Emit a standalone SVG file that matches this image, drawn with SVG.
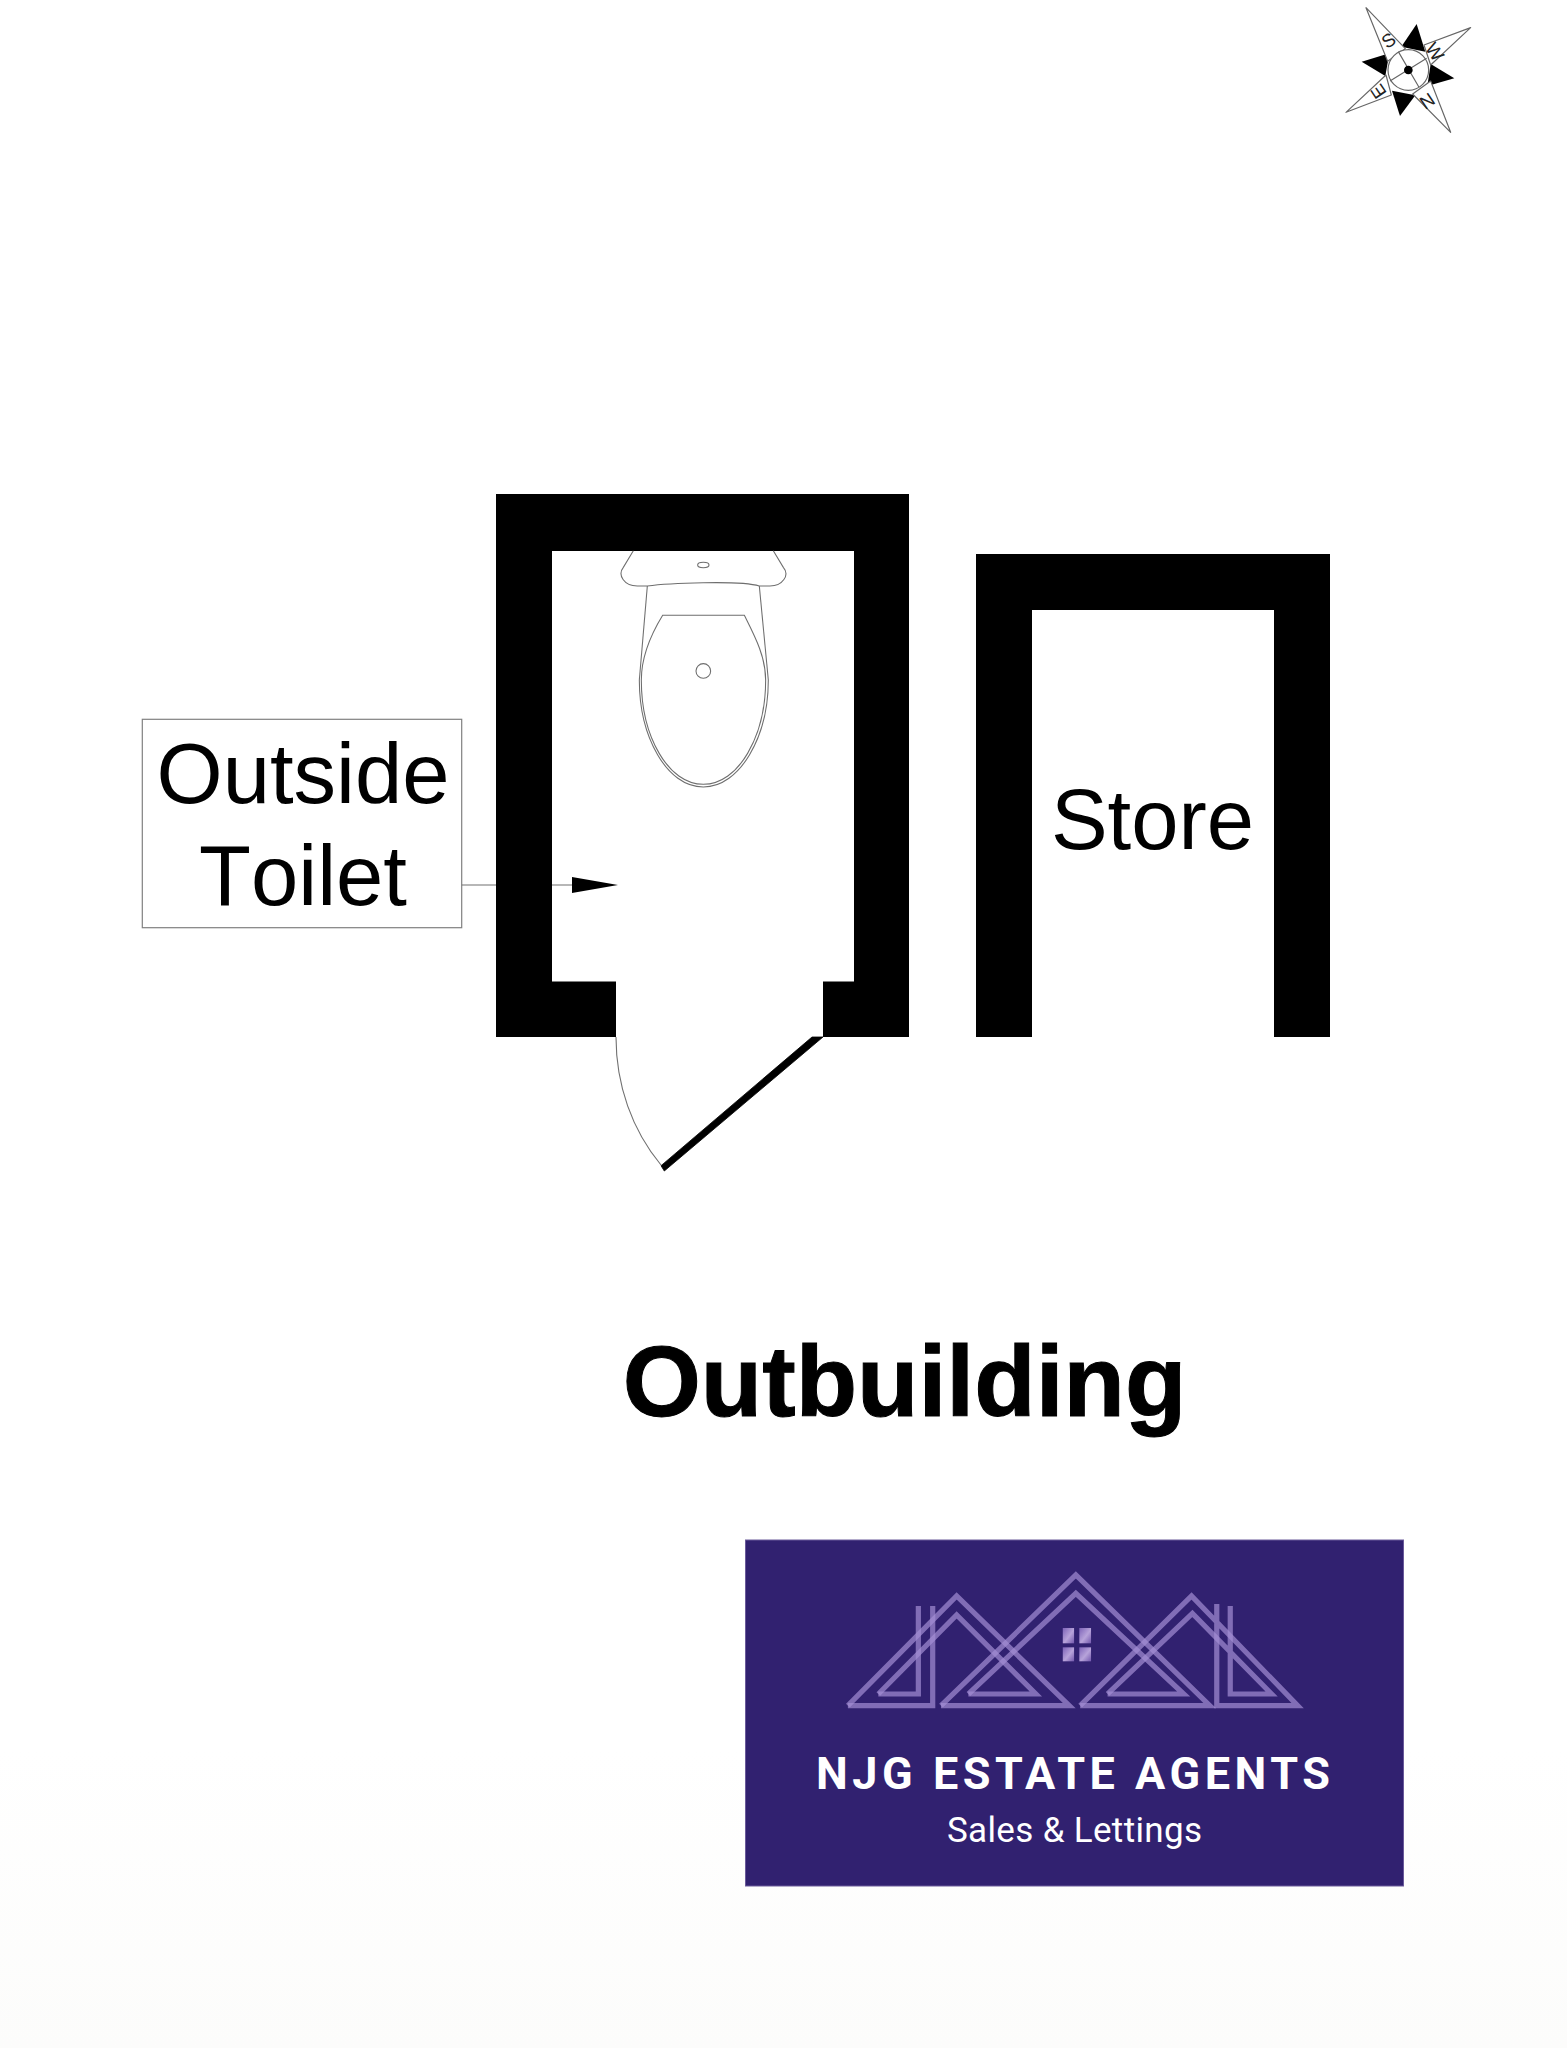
<svg xmlns="http://www.w3.org/2000/svg" width="1567" height="2048" viewBox="0 0 1567 2048">
<defs>
<linearGradient id="fade" x1="0" y1="0" x2="0" y2="1"><stop offset="0" stop-color="#ffffff"/><stop offset="1" stop-color="#fcfcfb"/></linearGradient>
<linearGradient id="pane" x1="0" y1="0" x2="1" y2="1"><stop offset="0" stop-color="#7d63b8"/><stop offset="0.55" stop-color="#b7a3da"/><stop offset="1" stop-color="#7358ad"/></linearGradient>
</defs>
<style>
.wall{fill:#000}
.thin{fill:none;stroke:#707070;stroke-width:1.1}
.fix{fill:none;stroke:#6e6e6e;stroke-width:3.2}
.lbl{font-family:"Liberation Sans",Arial,sans-serif;fill:#000;font-size:85px;text-anchor:middle;font-kerning:none}
.roof{fill:none;stroke:#a48fd4;stroke-opacity:.7;stroke-width:5.2;stroke-linejoin:miter;vector-effect:non-scaling-stroke}
.cmp{fill:#fff;stroke:#666;stroke-width:3.5;stroke-linejoin:round}
.blk{fill:#000}
.cl{font-family:"Liberation Sans",Arial,sans-serif;font-size:56px;fill:#222;text-anchor:middle}
</style>
<rect width="1567" height="2048" fill="#fff"/>
<rect y="1750" width="1567" height="298" fill="url(#fade)"/>

<g id="compass" transform="translate(1320,0) scale(0.3333)">
<polygon class="blk" points="290,72 244,140 316,155"/>
<polygon class="blk" points="403,235 332,192 322,258"/>
<polygon class="blk" points="240,348 216,272 286,286"/>
<polygon class="blk" points="125,185 208,160 196,228"/>
<polygon class="cmp" points="138,23 256,146 203,184"/>
<polygon class="cmp" points="452,83 312,135 332,195"/>
<polygon class="cmp" points="392,397 332,243 278,282"/>
<polygon class="cmp" points="78,337 214,285 198,225"/>
<circle class="cmp" cx="265" cy="210" r="61"/>
<path d="M235,155L297,262M210,243L320,175" fill="none" stroke="#666" stroke-width="3.5"/>
<circle class="blk" cx="265" cy="210" r="13"/>
<text class="cl" transform="translate(205,121) rotate(326)" dy="20">S</text>
<text class="cl" transform="translate(345,155) rotate(56)" dy="20">W</text>
<text class="cl" transform="translate(322,304) rotate(146)" dy="20">N</text>
<text class="cl" transform="translate(175,275) rotate(236)" dy="20">E</text>
</g>

<g id="outside-toilet-walls">
<path class="wall" d="M496,494H909V1037H823V981.5H854V551H552V981.5H616V1037H496Z"/>
</g>

<g id="toilet" transform="translate(600,530) scale(0.3333)">
<path class="fix" d="M100,62L70,112C52,135 72,168 112,168L142,168C200,160 420,150 478,168L510,168C548,168 570,135 550,112L520,62"/>
<ellipse class="fix" cx="310" cy="105" rx="17" ry="8"/>
<path class="fix" d="M142,168L118,450"/>
<path class="fix" d="M478,168L505,450"/>
<path class="fix" d="M118,450C118,620 200,771 310,771C420,771 505,620 505,450"/>
<path class="fix" d="M188,256L433,256C465,320 497,380 497,450C497,620 415,763 310,763C205,763 124,620 124,450C124,380 155,310 188,256Z"/>
<circle class="fix" cx="310" cy="423" r="22"/>
</g>

<g id="door">
<polygon class="wall" stroke="#000" stroke-width="0.8" points="812,1037 823,1037 664.3,1171 661,1165.7"/>
<path class="thin" d="M616,1037C616,1085 632,1130 661,1165"/>
</g>

<g id="store-walls">
<path class="wall" d="M976,1037V554H1330V1037H1274V610H1032V1037Z"/>
</g>
<g id="store-label"><text class="lbl" x="1152.5" y="849">Store</text></g>

<g id="outside-toilet-label">
<rect x="142.3" y="719.3" width="319.4" height="208.4" fill="#fff" stroke="#808080" stroke-width="1.2"/>
<text class="lbl" x="303" y="803">Outside</text>
<text class="lbl" x="303" y="905">Toilet</text>
</g>

<g id="connectors">
<path class="thin" d="M461.7,885H496M552,885H572"/>
<polygon class="wall" points="572,877 618,885 572,893"/>
</g>

<g id="title"><text x="904.5" y="1416" font-family="Liberation Sans, Arial, sans-serif" font-weight="700" font-size="100.5" text-anchor="middle" fill="#000" stroke="#000" stroke-width="1">Outbuilding</text></g>

<g id="logo">
<rect x="745.5" y="1540" width="658" height="346" fill="#312170" stroke="#6a5a9a" stroke-width="1"/>
<g transform="translate(740,1530) scale(0.435,0.3333)">
<path class="roof" d="M248,527H443V228"/>
<path class="roof" d="M248,527L498,198L757,527H462"/>
<path class="roof" d="M462,527L772,135L1080,527H782"/>
<path class="roof" d="M782,527L1038,198L1282,527H1096V222"/>
<path class="roof" d="M410,228V492H318"/>
<path class="roof" d="M318,492L498,255L680,492H525"/>
<path class="roof" d="M525,492L772,190L1020,492H845"/>
<path class="roof" d="M845,492L1040,250L1222,492H1127V228"/>
<rect x="742" y="294" width="26" height="46" fill="url(#pane)"/>
<rect x="780" y="294" width="27" height="46" fill="url(#pane)"/>
<rect x="742" y="352" width="26" height="42" fill="url(#pane)"/>
<rect x="780" y="352" width="27" height="42" fill="url(#pane)"/>
</g>
<text x="816" y="1789" font-family="Roboto, sans-serif" font-weight="700" font-size="45" fill="#fff" textLength="514" lengthAdjust="spacing">NJG ESTATE AGENTS</text>
<text x="947" y="1842" font-family="Roboto, sans-serif" font-weight="400" font-size="35" fill="#fff" textLength="255" lengthAdjust="spacing">Sales &amp; Lettings</text>
</g>
</svg>
